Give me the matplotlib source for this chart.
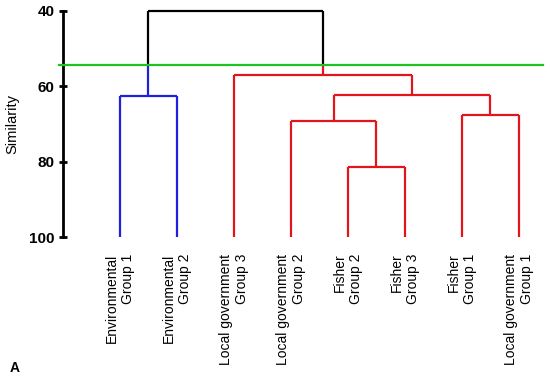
import matplotlib
matplotlib.use("Agg")
import matplotlib.pyplot as plt

plt.rcParams['font.family'] = ['Liberation Sans', 'DejaVu Sans']

# leaves in plotting order
labels = ["Environmental\nGroup 1", "Environmental\nGroup 2",
          "Local government\nGroup 3", "Local government\nGroup 2",
          "Fisher\nGroup 2", "Fisher\nGroup 3",
          "Fisher\nGroup 1", "Local government\nGroup 1"]

# merges: (child a, child b, similarity); new node ids start at len(labels)
merge_a = [4, 3, 6, 9, 0, 2, 12]
merge_b = [5, 8, 7, 10, 1, 11, 13]
merge_h = [81.5, 69.2, 67.6, 62.3, 62.6, 57.2, 40.0]

cut_level = 54.3
cluster_colors = {12: "#1f1fe0", 13: "#e3141b"}

n = len(labels)
xpos = {i: i + 1 for i in range(n)}
hgt = {i: 100.0 for i in range(n)}
for k, (a, b, h) in enumerate(zip(merge_a, merge_b, merge_h)):
    xpos[n + k] = (xpos[a] + xpos[b]) / 2
    hgt[n + k] = h

# colour of every node: inherited from the cluster root below the cut
children = {n + k: (a, b) for k, (a, b) in enumerate(zip(merge_a, merge_b))}
color = {}

def paint(node, c):
    color[node] = c
    if node in children:
        for ch in children[node]:
            paint(ch, c)

for root, c in cluster_colors.items():
    paint(root, c)

fig = plt.figure(figsize=(5.5, 3.78), dpi=100)
ax = fig.add_axes([0.1145, 0.373, 0.8725, 0.599])
lw = 1.6

for k, (a, b, h) in enumerate(zip(merge_a, merge_b, merge_h)):
    node = n + k
    c = color.get(node, "black")
    ax.plot([xpos[a], xpos[b]], [h, h], color=c, lw=lw, clip_on=False,
            solid_capstyle='butt')
    for ch in (a, b):
        if node in color:
            ax.plot([xpos[ch], xpos[ch]], [h, hgt[ch]], color=c, lw=lw,
                    clip_on=False, solid_capstyle='butt')
        else:
            ax.plot([xpos[ch], xpos[ch]], [h, cut_level], color="black",
                    lw=lw, clip_on=False, solid_capstyle='butt')
            ax.plot([xpos[ch], xpos[ch]], [cut_level, hgt[ch]],
                    color=color[ch], lw=lw, clip_on=False,
                    solid_capstyle='butt')

ax.plot([-0.07, 8.42], [cut_level, cut_level], color="#1fc21f", lw=lw,
        clip_on=False, zorder=5)

ax.set_xlim(0, 8.42)
ax.set_ylim(100, 40)
ax.set_yticks([40, 60, 80, 100])
ax.set_yticklabels(["40", "60", "80", "100"], fontsize=11, fontweight='bold')
ax.set_ylabel("Similarity", fontsize=10.5)
ax.yaxis.set_label_coords(-0.09, 0.5)
ax.set_xticks(list(range(1, n + 1)))
ax.set_xticklabels(labels, rotation=90, fontsize=10, ha='center', va='top',
                   multialignment='right')
ax.tick_params(axis='x', length=0, pad=12)
ax.tick_params(axis='y', length=6, width=2, direction='inout', pad=3)
for s in ["top", "right", "bottom"]:
    ax.spines[s].set_visible(False)
ax.spines["left"].set_linewidth(2)

fig.text(0.018, 0.015, "A", fontsize=10, fontweight='bold')

fig.savefig("out.png", dpi=100)
